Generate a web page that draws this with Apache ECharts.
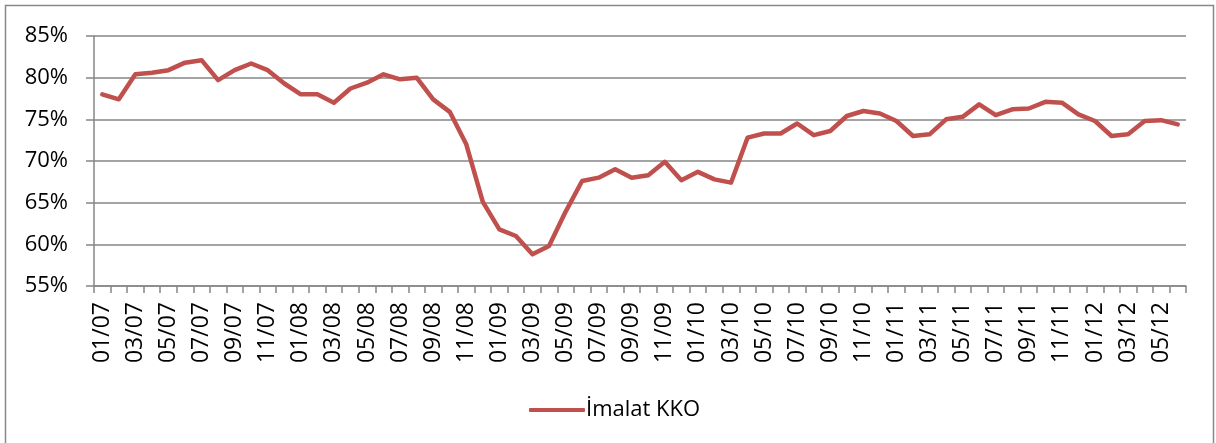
<!DOCTYPE html>
<html>
<head>
<meta charset="utf-8">
<script src="https://cdn.jsdelivr.net/npm/echarts@6/dist/echarts.min.js"></script>
<style>
html,body{margin:0;padding:0;background:#fff;}
#c{width:1216px;height:443px;}
</style>
</head>
<body>
<div id="c"></div>
<script>
const years = ['07','08','09','10','11','12'];
const months = ['01','02','03','04','05','06','07','08','09','10','11','12'];
const categories = [];
years.forEach(y => months.forEach(m => { if (categories.length < 66) categories.push(m + '/' + y); }));

const seriesName = 'İmalat KKO';
const values = [
  78.0, 77.4, 80.4, 80.6, 80.9, 81.8, 82.1, 79.7, 80.9, 81.7, 80.9, 79.3,
  78.0, 78.0, 77.0, 78.7, 79.4, 80.4, 79.8, 80.0, 77.4, 75.9, 72.0, 65.1,
  61.8, 61.0, 58.8, 59.8, 63.9, 67.6, 68.0, 69.0, 68.0, 68.3, 69.9, 67.7,
  68.7, 67.8, 67.4, 72.8, 73.3, 73.3, 74.5, 73.1, 73.6, 75.4, 76.0, 75.7,
  74.8, 73.0, 73.2, 75.0, 75.3, 76.8, 75.5, 76.2, 76.3, 77.1, 77.0, 75.6,
  74.8, 73.0, 73.2, 74.8, 74.9, 74.4
];
const yMin = 55, yMax = 85, yStep = 5;

const font = '"Open Sans", Lato, "DejaVu Sans", sans-serif';
const chart = echarts.init(document.getElementById('c'), null, {renderer: 'canvas'});
chart.setOption({
  animation: false,
  backgroundColor: '#fff',
  graphic: [{
    type: 'rect',
    shape: {x: 5.5, y: 5.5, width: 1208, height: 445},
    style: {fill: 'none', stroke: '#888888', lineWidth: 1.5},
    silent: true
  }],
  grid: {left: 94, right: 30, top: 36, bottom: 157, containLabel: false},
  legend: {
    data: [seriesName],
    left: 524,
    top: 394,
    itemWidth: 56,
    itemHeight: 4,
    itemGap: 6,
    icon: 'roundRect',
    textStyle: {fontFamily: font, fontSize: 22, color: '#000', padding: [0,0,0,-4]}
  },
  xAxis: {
    type: 'category',
    data: categories,
    boundaryGap: true,
    axisLine: {lineStyle: {color: '#868686', width: 1.5}},
    axisTick: {show: true, interval: 0, length: 7, lineStyle: {color: '#868686', width: 1.5}},
    axisLabel: {
      interval: 1,
      rotate: 90,
      margin: 16,
      fontFamily: font,
      fontSize: 23,
      color: '#000'
    },
    splitLine: {show: false}
  },
  yAxis: {
    type: 'value',
    min: yMin,
    max: yMax,
    interval: yStep,
    axisLine: {show: true, lineStyle: {color: '#868686', width: 1.5}},
    axisTick: {show: true, length: 8, lineStyle: {color: '#868686', width: 1.5}},
    axisLabel: {
      formatter: '{value}%',
      margin: 26,
      fontFamily: font,
      fontSize: 22,
      color: '#000'
    },
    splitLine: {show: true, lineStyle: {color: '#868686', width: 1.5}}
  },
  series: [{
    name: seriesName,
    type: 'line',
    data: values,
    symbol: 'none',
    smooth: false,
    lineStyle: {color: '#C0504D', width: 4.5, cap: 'round', join: 'round'},
    itemStyle: {color: '#C0504D'}
  }]
});
</script>
</body>
</html>
